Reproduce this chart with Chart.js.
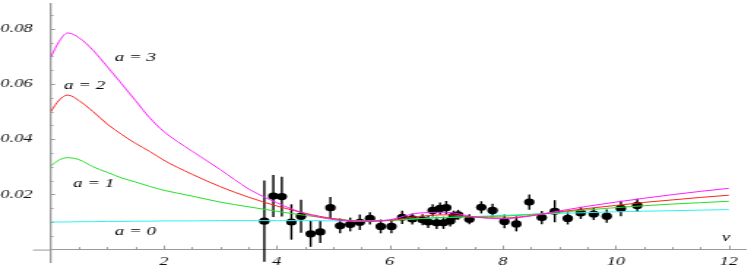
<!DOCTYPE html>
<html>
<head>
<meta charset="utf-8">
<script src="https://cdn.jsdelivr.net/npm/chart.js@4.4.0/dist/chart.umd.min.js"></script>
<style>
html, body { margin: 0; padding: 0; background: #fff; overflow: hidden; }
/* the original plot is a square-pixel figure stretched sideways */
#wrap { width: 514px; height: 272px; transform: scaleX(1.4611); transform-origin: 0 0; }
</style>
</head>
<body>
<div id="wrap"><canvas id="mycanvas" width="514" height="272"></canvas></div>
<script>
// model curves, a = 0..3
var curveV  = [0, 0.15, 0.3, 0.5, 0.75, 1, 1.25, 1.5, 1.75, 2, 2.5, 3, 3.5, 4, 4.5, 5, 5.5, 6, 6.5, 7, 7.5, 8, 8.5, 9, 9.5, 10, 10.5, 11, 11.5, 12];
var curveA3 = [0.0697, 0.0755, 0.0785, 0.0768, 0.0722, 0.0663, 0.0602, 0.0540, 0.0478, 0.0428, 0.0357, 0.0290, 0.0220, 0.0170, 0.0130, 0.0109, 0.0102, 0.0108, 0.0132, 0.0135, 0.0118, 0.0112, 0.0122, 0.0140, 0.0157, 0.0172, 0.0186, 0.0199, 0.0211, 0.0222];
var curveA2 = [0.0500, 0.0542, 0.0560, 0.0540, 0.0500, 0.0455, 0.0418, 0.0385, 0.0356, 0.0324, 0.0273, 0.0228, 0.0190, 0.0158, 0.0132, 0.0112, 0.0103, 0.0106, 0.0120, 0.0126, 0.0118, 0.0114, 0.0123, 0.0137, 0.0149, 0.0160, 0.0171, 0.0180, 0.0189, 0.0197];
var curveA1 = [0.0303, 0.0325, 0.0333, 0.0326, 0.0300, 0.0280, 0.0260, 0.0245, 0.0229, 0.0215, 0.0194, 0.0172, 0.0155, 0.0139, 0.0124, 0.0112, 0.0104, 0.0105, 0.0112, 0.0117, 0.0119, 0.0121, 0.0127, 0.0135, 0.0144, 0.0152, 0.0159, 0.0165, 0.0170, 0.0175];
var curveA0 = [0.0100, 0.0100, 0.0100, 0.0101, 0.0101, 0.0102, 0.0102, 0.0103, 0.0103, 0.0104, 0.0104, 0.0105, 0.0105, 0.0105, 0.0105, 0.0104, 0.0104, 0.0107, 0.0112, 0.0116, 0.0120, 0.0124, 0.0128, 0.0131, 0.0134, 0.0137, 0.0139, 0.0141, 0.0143, 0.0145];

// measured points with errors
var dataV   = [3.78, 3.94, 4.09, 4.26, 4.43, 4.60, 4.77, 4.95, 5.12, 5.30, 5.47, 5.65, 5.84, 6.03, 6.22, 6.40, 6.58, 6.68, 6.76, 6.83, 6.89, 6.95, 7.00, 7.07, 7.13, 7.21, 7.41, 7.62, 7.82, 8.03, 8.24, 8.47, 8.69, 8.92, 9.15, 9.38, 9.61, 9.84, 10.09, 10.38];
var dataY   = [0.0103, 0.0194, 0.0192, 0.0100, 0.0121, 0.0057, 0.0064, 0.0152, 0.0086, 0.0091, 0.0099, 0.0113, 0.0084, 0.0084, 0.0117, 0.0111, 0.0108, 0.0100, 0.0142, 0.0097, 0.0149, 0.0097, 0.0152, 0.0104, 0.0121, 0.0126, 0.0110, 0.0153, 0.0142, 0.0102, 0.0093, 0.0172, 0.0116, 0.0139, 0.0113, 0.0133, 0.0129, 0.0121, 0.0149, 0.0160];
var dataErr = [0.0147, 0.0076, 0.0072, 0.0064, 0.0060, 0.0047, 0.0040, 0.0039, 0.0027, 0.0025, 0.0028, 0.0022, 0.0025, 0.0025, 0.0024, 0.0020, 0.0020, 0.0022, 0.0022, 0.0022, 0.0022, 0.0022, 0.0024, 0.0020, 0.0020, 0.0018, 0.0018, 0.0022, 0.0024, 0.0025, 0.0027, 0.0028, 0.0024, 0.0040, 0.0022, 0.0022, 0.0022, 0.0024, 0.0028, 0.0024];

var xTicks = [2, 4, 6, 8, 10, 12];
var yTicks = [0.02, 0.04, 0.06, 0.08];

var curveNames = ['a = 0', 'a = 1', 'a = 2', 'a = 3'];
var nameV = [1.50, 0.76, 0.60, 1.50];
var nameY = [0.0067, 0.0241, 0.0594, 0.0696];

function pts(xs, ys) {
	var out = [];
	for (var i = 0; i < xs.length; i++) out.push({x: xs[i], y: ys[i]});
	return out;
}

var serif = '"Liberation Serif", "DejaVu Serif", serif';

var extras = {
	id: 'extras',
	beforeDatasetsDraw: function(chart) {
		var ctx = chart.ctx, xs = chart.scales.x, ys = chart.scales.y;
		ctx.save();
		ctx.strokeStyle = '#000';
		ctx.lineWidth = 1.4;
		for (var i = 0; i < dataV.length; i++) {
			var px = xs.getPixelForValue(dataV[i]);
			ctx.beginPath();
			ctx.moveTo(px, ys.getPixelForValue(dataY[i] - dataErr[i]));
			ctx.lineTo(px, ys.getPixelForValue(dataY[i] + dataErr[i]));
			ctx.stroke();
		}
		ctx.restore();
	},
	afterDraw: function(chart) {
		var ctx = chart.ctx, xs = chart.scales.x, ys = chart.scales.y;
		var y0 = ys.getPixelForValue(0), x0 = xs.getPixelForValue(0);
		ctx.save();
		ctx.strokeStyle = '#9a9a9a';
		ctx.lineWidth = 1;
		// axis stub left of the origin
		ctx.beginPath();
		ctx.moveTo(22.6, y0 + 0.5);
		ctx.lineTo(x0, y0 + 0.5);
		ctx.stroke();
		// inward tick marks
		var t;
		for (t = 0.5; t <= 12.001; t += 0.5) {
			var px = Math.round(xs.getPixelForValue(t)) + 0.5;
			var len = (Math.round(t * 2) % 4 === 0) ? 4 : 2.5;
			ctx.beginPath();
			ctx.moveTo(px, y0);
			ctx.lineTo(px, y0 - len);
			ctx.stroke();
		}
		for (t = 0.005; t <= 0.0851; t += 0.005) {
			var py = Math.round(ys.getPixelForValue(t)) + 0.5;
			var len2 = (Math.round(t * 1000) % 20 === 0) ? 3 : 1.8;
			ctx.beginPath();
			ctx.moveTo(x0, py);
			ctx.lineTo(x0 + len2, py);
			ctx.stroke();
		}
		// curve names and axis name
		ctx.fillStyle = '#000';
		ctx.font = 'italic 13px ' + serif;
		ctx.textAlign = 'center';
		ctx.textBaseline = 'middle';
		for (var i = 0; i < curveNames.length; i++) {
			ctx.fillText(curveNames[i], xs.getPixelForValue(nameV[i]), ys.getPixelForValue(nameY[i]));
		}
		ctx.fillText('v', xs.getPixelForValue(11.95), ys.getPixelForValue(0.0045));
		ctx.restore();
	}
};

var ctx = document.getElementById('mycanvas');

var chart = new Chart(ctx, {
	type: 'scatter',
	data: {
		datasets: [
			{ type: 'line', label: 'a = 3', data: pts(curveV, curveA3), borderColor: '#ff1cff', borderWidth: 1, pointRadius: 0, fill: false, cubicInterpolationMode: 'monotone', order: 0 },
			{ type: 'line', label: 'a = 2', data: pts(curveV, curveA2), borderColor: '#ff2020', borderWidth: 1, pointRadius: 0, fill: false, cubicInterpolationMode: 'monotone', order: 1 },
			{ type: 'line', label: 'a = 1', data: pts(curveV, curveA1), borderColor: '#22e022', borderWidth: 1, pointRadius: 0, fill: false, cubicInterpolationMode: 'monotone', order: 2 },
			{ type: 'line', label: 'a = 0', data: pts(curveV, curveA0), borderColor: '#2cf2f2', borderWidth: 1, pointRadius: 0, fill: false, cubicInterpolationMode: 'monotone', order: 3 },
			{ label: 'data', data: pts(dataV, dataY), pointRadius: 3.6, pointBackgroundColor: '#000', pointBorderWidth: 0, order: 4 }
		]
	},
	options: {
		responsive: false,
		animation: false,
		events: [],
		layout: { padding: { top: 3, bottom: 10, left: 0, right: 0 } },
		plugins: { legend: { display: false }, tooltip: { enabled: false } },
		scales: {
			x: {
				type: 'linear', min: 0, max: 12.29,
				position: { y: 0 },
				grid: { display: false, drawTicks: false },
				border: { display: true, color: '#9a9a9a', width: 1 },
				afterBuildTicks: function(s) { s.ticks = xTicks.map(function(v) { return {value: v}; }); },
				afterFit: function(s) { s.paddingLeft = 0; s.paddingRight = 0; },
				ticks: { padding: 5, color: '#111', maxRotation: 0, autoSkip: false,
					font: { family: serif, style: 'italic', size: 12.5 },
					callback: function(v) { return String(v); } }
			},
			y: {
				type: 'linear', min: -0.0045, max: 0.089,
				position: 'left',
				grid: { display: false, drawTicks: false },
				border: { display: true, color: '#9a9a9a', width: 1.3 },
				afterBuildTicks: function(s) { s.ticks = yTicks.map(function(v) { return {value: v}; }); },
				afterFit: function(s) { s.width = 34.7; s.paddingTop = 0; s.paddingBottom = 0; },
				ticks: { padding: 12.5, color: '#111', autoSkip: false,
					font: { family: serif, style: 'italic', size: 12.5 },
					callback: function(v) { return v.toFixed(2); } }
			}
		}
	},
	plugins: [extras]
});
</script>
</body>
</html>
